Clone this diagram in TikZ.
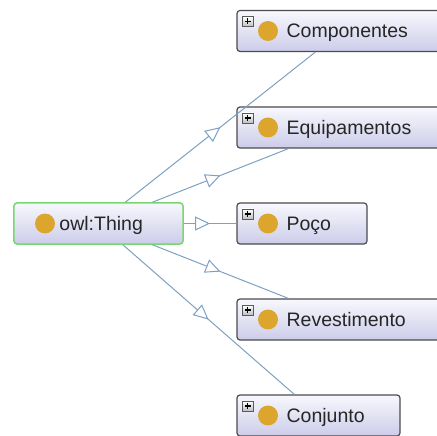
\documentclass[tikz,border=0pt]{standalone}
\usepackage{fontspec}
\setmainfont{Liberation Sans}
\usetikzlibrary{arrows.meta,positioning,decorations.markings}

\definecolor{boxtop}{RGB}{248,248,253}
\definecolor{boxbot}{RGB}{204,204,234}
\definecolor{boxline}{RGB}{75,75,80}
\definecolor{thinggreen}{RGB}{120,215,110}
\definecolor{dotcol}{RGB}{220,165,45}
\definecolor{edgecol}{RGB}{125,160,195}

\tikzset{
  box/.style={rectangle, rounded corners=3bp, minimum height=41bp,
    top color=boxtop, bottom color=boxbot, draw=boxline, line width=1.2bp},
  root/.style={box, draw=thinggreen, line width=1.5bp,
    path picture={\fill[dotcol] ([xshift=31bp]path picture bounding box.west) circle (10bp);}},
  sub/.style={box,
    path picture={
      \fill[dotcol] ([xshift=31bp]path picture bounding box.west) circle (10bp);
      \draw[sharp corners, line width=0.8bp, draw=black!65, top color=white, bottom color=black!25]
        ([xshift=5bp,yshift=-6bp]path picture bounding box.north west) rectangle +(11bp,-10bp);
      \draw[line width=1.4bp, black]
        ([xshift=7.5bp,yshift=-11bp]path picture bounding box.north west) -- +(6bp,0)
        ([xshift=10.5bp,yshift=-8bp]path picture bounding box.north west) -- +(0,-6bp);
    }},
  lbl/.style={font=\fontsize{19.5bp}{23bp}\selectfont, inner sep=0pt,
    text height=14bp, text depth=0pt, text=black!85},
  isa/.style={draw=edgecol, line width=1bp, postaction={decorate},
    decoration={markings, mark=at position 0.5 with
      {\arrow{Triangle[length=15bp,width=14bp,fill=white]}}}}
}

\begin{document}
\begin{tikzpicture}[x=1bp,y=1bp]
  \useasboundingbox (0,0) rectangle (437,-436);
  \clip (0,0) rectangle (437,-436);

  % Root class
  \node[root, minimum width=169bp] (thing) at (98.5,-223.5) {};
  \node[lbl, right=46bp of thing.west] (thingTxt) {owl:Thing};

  % Subclasses
  \node[sub, minimum width=210bp] (comp) at (342,-31) {};
  \node[lbl, right=50bp of comp.west] (compTxt) {Componentes};

  \node[sub, minimum width=210bp] (equip) at (342,-127.5) {};
  \node[lbl, right=50bp of equip.west] (equipTxt) {Equipamentos};

  \node[sub, minimum width=130bp] (poco) at (302,-223.5) {};
  \node[lbl, right=50bp of poco.west] (pocoTxt) {Poço};

  \node[sub, minimum width=210bp] (revest) at (342,-319.5) {};
  \node[lbl, right=50bp of revest.west] (revestTxt) {Revestimento};

  \node[sub, minimum width=163bp] (conj) at (318.5,-415.5) {};
  \node[lbl, right=50bp of conj.west] (conjTxt) {Conjunto};

  % Edges
  \draw[isa] (thing) -- (comp);
  \draw[isa] (thing) -- (equip);
  \draw[isa] (thing) -- (poco);
  \draw[isa] (thing) -- (revest);
  \draw[isa] (thing) -- (conj);
\end{tikzpicture}
\end{document}
